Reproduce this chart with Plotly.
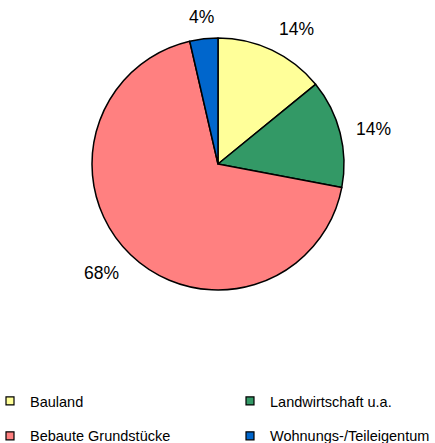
import math
import plotly.graph_objects as go

labels = ["Bauland", "Landwirtschaft u.a.", "Bebaute Grundstücke", "Wohnungs-/Teileigentum"]
values = [14.1, 13.9, 68.4, 3.6]
colors = ["#FFFF99", "#339966", "#FF8080", "#0066CC"]
legend_columns = ["legend", "legend2", "legend", "legend2"]

W, H = 435, 443
cx, cy, r = 218, 164, 126
FONT = "Liberation Sans, Arial, sans-serif"
LABEL_SIZE = 17.5

fig = go.Figure(go.Pie(
    labels=labels,
    values=values,
    sort=False,
    direction="clockwise",
    rotation=0,
    marker=dict(colors=colors, line=dict(color="black", width=1.5)),
    textinfo="none",
    showlegend=False,
    domain=dict(x=[(cx - r) / W, (cx + r) / W], y=[(H - cy - r) / H, (H - cy + r) / H]),
    hoverinfo="label+percent",
))

# percentage labels outside the slices: the label box touches a point
# just beyond the rim at the slice's mid-angle (Excel-like placement)
total = sum(values)
cum = 0.0
for v in values:
    mid = (cum + v / 2) / total * 2 * math.pi
    cum += v
    s, c = math.sin(mid), math.cos(mid)
    txt = f"{round(v / total * 100)}%"
    w = LABEL_SIZE * (0.556 * (len(txt) - 1) + 0.889)
    h = LABEL_SIZE * 0.716
    d = r + 16
    px, py = cx + d * s, cy - d * c
    ox = w / 2 if s > 0.3 else (-w / 2 if s < -0.3 else 0)
    oy = -h / 2 if c > 0.3 else (h / 2 if c < -0.3 else 0)
    fig.add_annotation(
        x=(px + ox) / W, y=1 - (py + oy) / H, xref="paper", yref="paper",
        text=txt, showarrow=False,
        xanchor="center", yanchor="middle",
        font=dict(family=FONT, size=LABEL_SIZE, color="black"),
    )

# legend entries (two columns) matching the slice colours
for lab, col, leg in zip(labels, colors, legend_columns):
    fig.add_trace(go.Scatter(
        x=[None], y=[None], mode="markers", name=lab,
        marker=dict(symbol="square", size=8, color=col, line=dict(color="black", width=1.2)),
        legend=leg, legendgroup=lab, showlegend=True, hoverinfo="skip",
    ))

leg_common = dict(
    orientation="v", yanchor="top", xanchor="left",
    font=dict(family=FONT, size=14.5, color="black"),
    tracegroupgap=13, bgcolor="rgba(0,0,0,0)", borderwidth=0,
)
fig.update_layout(
    width=W, height=H,
    margin=dict(l=0, r=0, t=0, b=0, autoexpand=False),
    paper_bgcolor="white", plot_bgcolor="white",
    xaxis=dict(visible=False), yaxis=dict(visible=False),
    legend=dict(x=-10 / W, y=(H - 385) / H, **leg_common),
    legend2=dict(x=230 / W, y=(H - 385) / H, **leg_common),
)

fig.write_html(
    "out.html",
    config={"displayModeBar": False},
    post_script="document.body.style.margin='0';document.body.style.padding='0';",
)
